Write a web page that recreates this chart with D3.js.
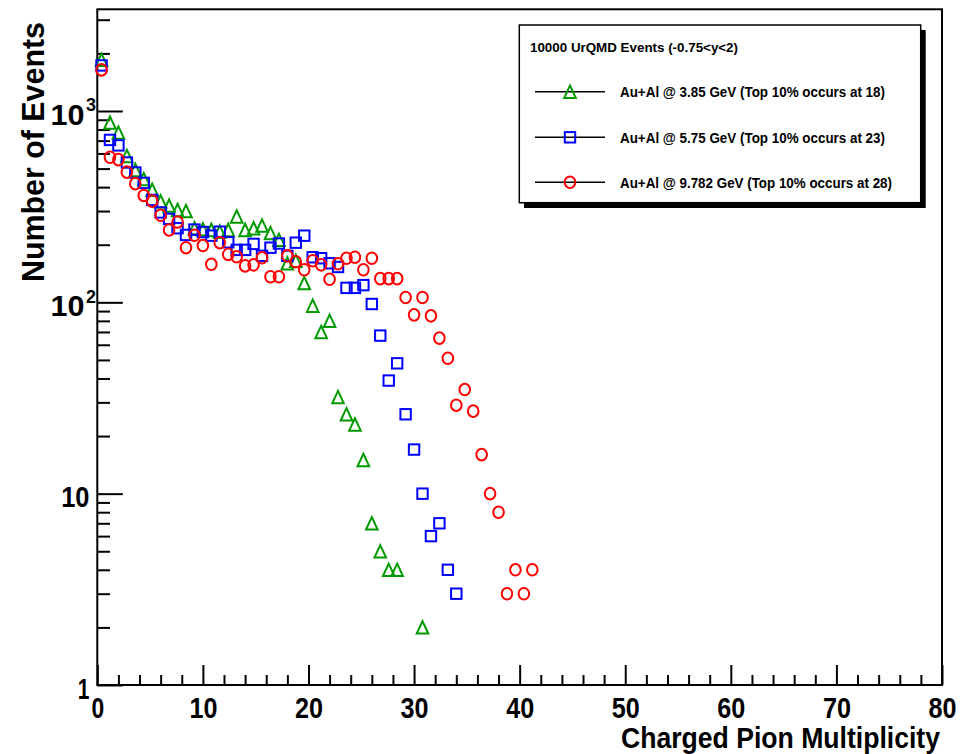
<!DOCTYPE html>
<html>
<head>
<meta charset="utf-8">
<script src="https://cdn.jsdelivr.net/npm/d3@7"></script>
<style>
  html, body { margin: 0; padding: 0; background: #fff; }
  svg { display: block; }
  text { font-family: "Liberation Sans", Arial, Helvetica, sans-serif; font-weight: bold; fill: #000; }
</style>
</head>
<body>
<svg id="chart" width="975" height="754"></svg>
<script>
// ---------------- data ----------------
const binCenters = [0.4, 1.2, 2.0, 2.8, 3.6, 4.4, 5.2, 6.0, 6.8, 7.6, 8.4, 9.2, 10.0, 10.8, 11.6, 12.4,
  13.2, 14.0, 14.8, 15.6, 16.4, 17.2, 18.0, 18.8, 19.6, 20.4, 21.2, 22.0, 22.8, 23.6, 24.4, 25.2,
  26.0, 26.8, 27.6, 28.4, 29.2, 30.0, 30.8, 31.6, 32.4, 33.2, 34.0, 34.8, 35.6, 36.4, 37.2, 38.0,
  38.8, 39.6, 40.4, 41.2];

const counts385 = [1850, 869, 771, 582, 492, 441, 387, 337, 320, 304, 300, 244, 241, 239, 234, 239,
  281, 239, 244, 252, 230, 212, 160, 165, 126, 96, 70, 80, 32, 26, 23, 15,
  7, 5, 4, 4, null, null, 2];

const counts575 = [1730, 706, 661, 538, 477, 421, 343, 295, 273, 244, 225, 240, 233, 223, 234, 206,
  188, 188, 202, 175, 193, 203, 175, 205, 223, 172, 170, 160, 153, 119, 119, 123,
  98, 67, 39, 48, 26, 17, 10, 6, 7, 4, 3];

const counts9782 = [1640, 573, 557, 479, 417, 362, 338, 285, 239, 263, 193, 224, 198, 158, 205, 178,
  173, 155, 157, 171, 136, 136, 175, 163, 148, 165, 157, 132, 159, 170, 172, 148,
  170, 133, 133, 133, 106, 86, 106, 85, 65, 51, 29, 35, 27, 16, 10, 8,
  3, 4, 3, 4];

const seriesNames = ["Au+Al @ 3.85 GeV (Top 10% occurs at 18)",
                     "Au+Al @ 5.75 GeV (Top 10% occurs at 23)",
                     "Au+Al @ 9.782 GeV (Top 10% occurs at 28)"];
const legendTitle = "10000 UrQMD Events (-0.75<y<2)";
const xMajorTicks = [0, 10, 20, 30, 40, 50, 60, 70, 80];
const xMinorTicks = [2, 4, 6, 8, 12, 14, 16, 18, 22, 24, 26, 28, 32, 34, 36, 38, 42, 44, 46, 48,
  52, 54, 56, 58, 62, 64, 66, 68, 72, 74, 76, 78];
const yMajorTicks = [1, 10, 100, 1000];
const yMajorLabels = [["1", ""], ["10", ""], ["10", "2"], ["10", "3"]];
const yMinorTicks = [2, 3, 4, 5, 6, 7, 8, 9, 20, 30, 40, 50, 60, 70, 80, 90,
  200, 300, 400, 500, 600, 700, 800, 900, 2000, 3000];
const xTitle = "Charged Pion Multiplicity";
const yTitle = "Number of Events";

// ---------------- layout ----------------
const svg = d3.select("#chart");
const L = 97.3, R = 942, T = 9.3, B = 685;
const x = d3.scaleLinear().domain([0, 80]).range([L, R]);
const y = d3.scaleLog().domain([1, 3400]).range([B, T]);

const colors = ["#009a00", "#0000ff", "#ff0000"];
const shapes = ["triangle", "square", "circle"];

// ---------------- axes ----------------
function styleAxis(g) {
  g.select(".domain").remove();
  g.selectAll(".tick line").attr("stroke", "#000").attr("stroke-width", 2);
}
svg.append("g").attr("transform", `translate(0,${B})`)
  .call(d3.axisBottom(x).tickValues(xMinorTicks).tickSize(-10).tickFormat(""))
  .call(styleAxis);
const xMaj = svg.append("g").attr("transform", `translate(0,${B})`)
  .call(d3.axisBottom(x).tickValues(xMajorTicks).tickSize(-20).tickPadding(12))
  .call(styleAxis);
xMaj.selectAll(".tick text")
  .attr("font-size", 29).attr("font-family", null).attr("fill", "#000")
  .attr("y", 32.5).attr("dy", null)
  .attr("textLength", d => d === 0 ? 12.7 : 28)
  .attr("lengthAdjust", "spacingAndGlyphs");

svg.append("g").attr("transform", `translate(${L},0)`)
  .call(d3.axisLeft(y).tickValues(yMinorTicks).tickSize(-12.7).tickFormat(""))
  .call(styleAxis);
svg.append("g").attr("transform", `translate(${L},0)`)
  .call(d3.axisLeft(y).tickValues(yMajorTicks).tickSize(-25.5).tickFormat(""))
  .call(styleAxis);

// y labels
yMajorTicks.forEach((v, i) => {
  const [base, sup] = yMajorLabels[i];
  const yy = y(v);
  if (!sup) {
    svg.append("text").attr("x", 89.5).attr("y", yy + 13.8)
      .attr("text-anchor", "end").attr("font-size", 29)
      .attr("textLength", base.length === 1 ? 11.7 : 28.3).attr("lengthAdjust", "spacingAndGlyphs")
      .text(base);
  } else {
    svg.append("text").attr("x", 84.5).attr("y", yy + 13.8)
      .attr("text-anchor", "end").attr("font-size", 29)
      .attr("textLength", 34).attr("lengthAdjust", "spacingAndGlyphs")
      .text(base);
    svg.append("text").attr("x", 86).attr("y", yy + 0.5)
      .attr("font-size", 19).attr("textLength", 10).attr("lengthAdjust", "spacingAndGlyphs")
      .text(sup);
  }
});

// frame
svg.append("rect").attr("x", L).attr("y", T).attr("width", R - L).attr("height", B - T)
  .attr("fill", "none").attr("stroke", "#000").attr("stroke-width", 2);

// titles
svg.append("text").attr("x", 940).attr("y", 748).attr("text-anchor", "end")
  .attr("font-size", 29).attr("textLength", 319).attr("lengthAdjust", "spacingAndGlyphs")
  .text(xTitle);
svg.append("text").attr("transform", "translate(44,282) rotate(-90)")
  .attr("font-size", 31).attr("textLength", 260).attr("lengthAdjust", "spacingAndGlyphs")
  .text(yTitle);

// ---------------- markers ----------------
function drawMarker(g, shape, cx, cy, color) {
  if (shape === "triangle") {
    const w = 5.8, h = 6.2;
    g.append("path")
      .attr("d", `M${cx},${cy - h}L${cx + w},${cy + h}L${cx - w},${cy + h}Z`)
      .attr("fill", "none").attr("stroke", color).attr("stroke-width", 2);
  } else if (shape === "square") {
    const s = 5.2;
    g.append("rect").attr("x", cx - s).attr("y", cy - s).attr("width", 2 * s).attr("height", 2 * s)
      .attr("fill", "none").attr("stroke", color).attr("stroke-width", 2);
  } else {
    g.append("ellipse").attr("cx", cx).attr("cy", cy).attr("rx", 5.3).attr("ry", 5.8)
      .attr("fill", "none").attr("stroke", color).attr("stroke-width", 2);
  }
}

const allCounts = [counts385, counts575, counts9782];
const plotG = svg.append("g");
allCounts.forEach((arr, si) => {
  const g = plotG.append("g");
  arr.forEach((v, i) => {
    if (v == null || v <= 0) return;
    drawMarker(g, shapes[si], x(binCenters[i]), y(v), colors[si]);
  });
});

// ---------------- legend ----------------
const lg = svg.append("g");
lg.append("rect").attr("x", 524).attr("y", 30).attr("width", 401.7).attr("height", 178).attr("fill", "#000");
lg.append("rect").attr("x", 519.3).attr("y", 25).attr("width", 401.4).attr("height", 177.7)
  .attr("fill", "#fff").attr("stroke", "#000").attr("stroke-width", 1.5);
lg.append("text").attr("x", 530).attr("y", 51.5).attr("font-size", 13.5)
  .attr("textLength", 208).attr("lengthAdjust", "spacingAndGlyphs").text(legendTitle);
const entryY = [91.7, 137.3, 182.3];
const entryLen = [265, 265, 272];
seriesNames.forEach((name, i) => {
  const yy = entryY[i];
  lg.append("line").attr("x1", 535).attr("x2", 605).attr("y1", yy).attr("y2", yy)
    .attr("stroke", "#000").attr("stroke-width", 1.6);
  drawMarker(lg, shapes[i], 570, yy, colors[i]);
  lg.append("text").attr("x", 620).attr("y", yy + 5.5).attr("font-size", 14.5)
    .attr("textLength", entryLen[i]).attr("lengthAdjust", "spacingAndGlyphs").text(name);
});
</script>
</body>
</html>
